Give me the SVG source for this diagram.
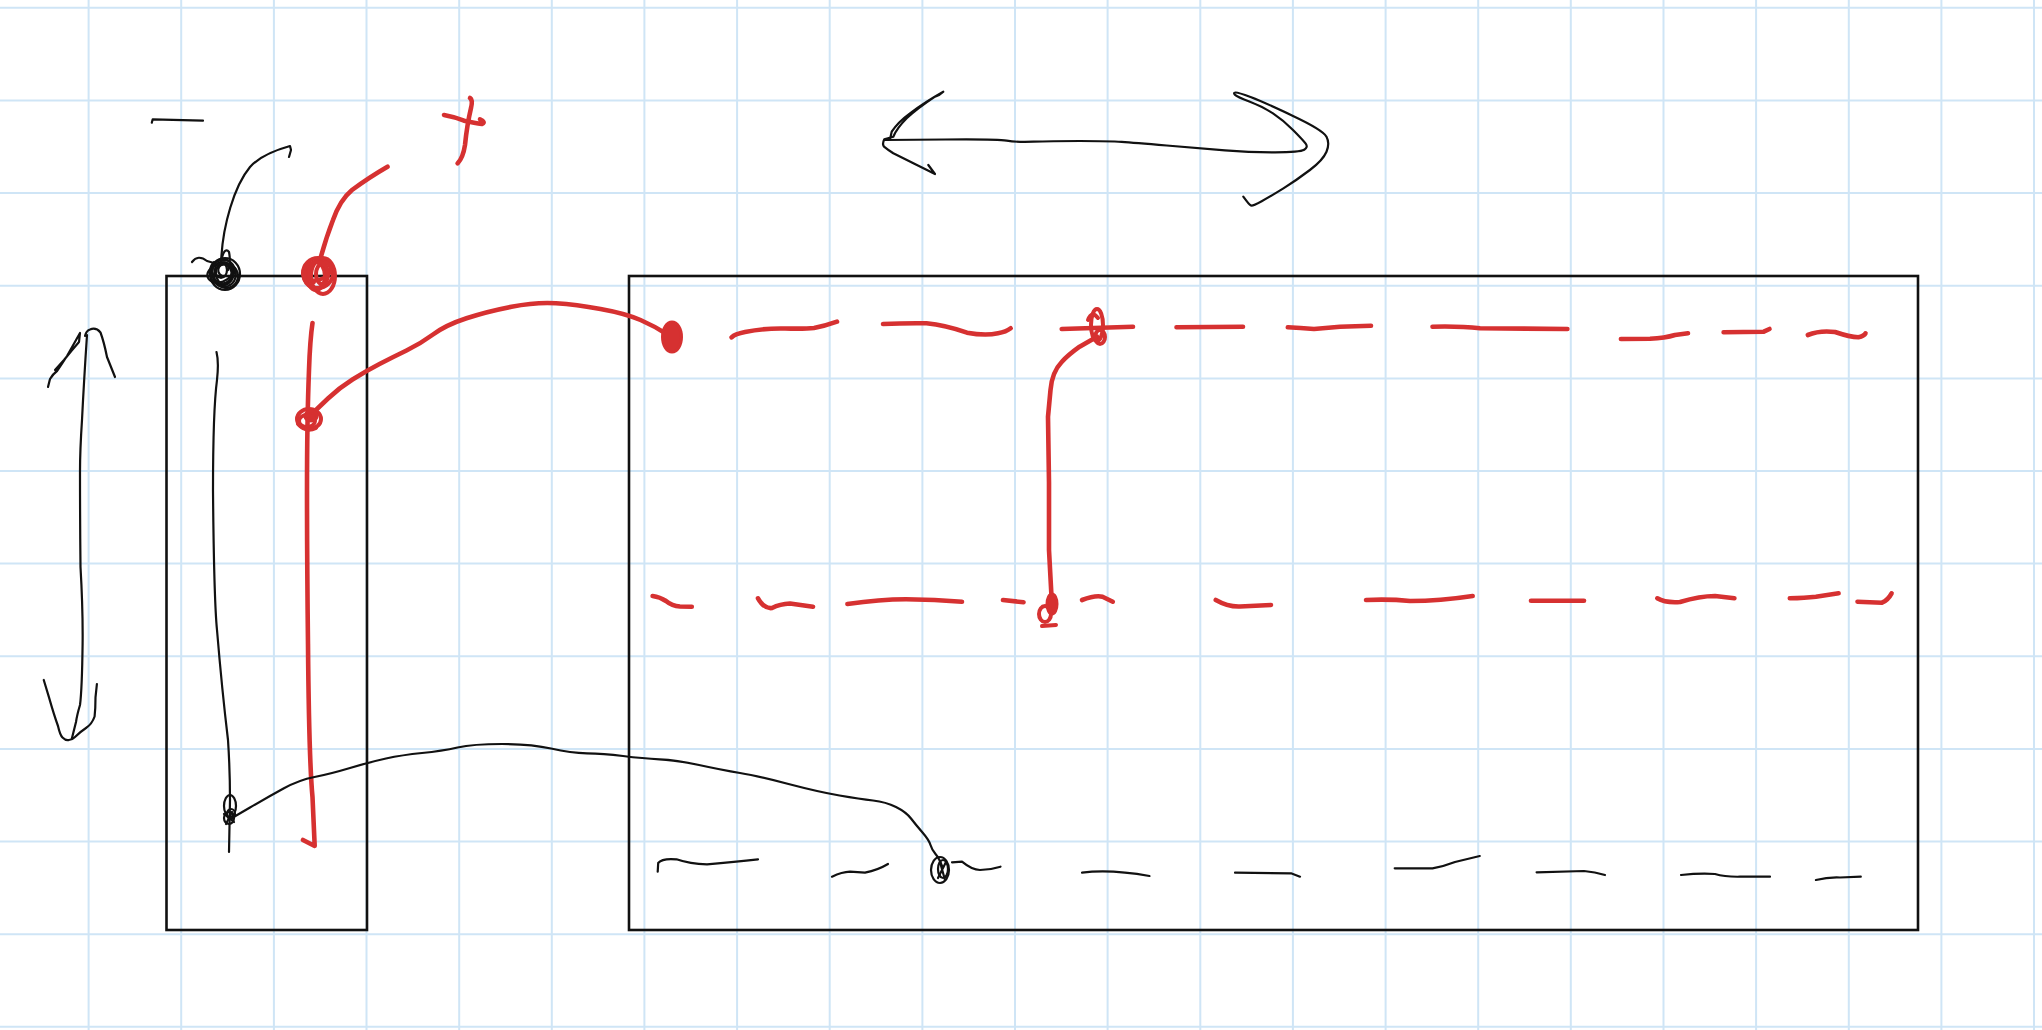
<svg xmlns="http://www.w3.org/2000/svg" width="2042" height="1030" viewBox="0 0 2042 1030">
<style>
.grid{stroke:#cfe5f6;stroke-width:2;fill:none}
.box{fill:none;stroke:#111;stroke-width:2.6}
.ink{fill:none;stroke:#111;stroke-width:2.2;stroke-linecap:round;stroke-linejoin:round}
.red{fill:none;stroke:#d63131;stroke-width:4.6;stroke-linecap:round;stroke-linejoin:round}
.redthin{fill:none;stroke:#d63131;stroke-width:4;stroke-linecap:round;stroke-linejoin:round}
.dot{fill:#d63131;stroke:#d63131;stroke-width:3}
</style>
<rect width="2042" height="1030" fill="#fff"/>
<g id="grid">
<path class="grid" d="M88.6,0V1030M181.2,0V1030M273.9,0V1030M366.5,0V1030M459.2,0V1030M551.8,0V1030M644.4,0V1030M737.1,0V1030M829.7,0V1030M922.4,0V1030M1015,0V1030M1107.6,0V1030M1200.3,0V1030M1292.9,0V1030M1385.6,0V1030M1478.2,0V1030M1570.8,0V1030M1663.5,0V1030M1756.1,0V1030M1848.8,0V1030M1941.4,0V1030M2034,0V1030"/>
<path class="grid" d="M0,7.8H2042M0,100.4H2042M0,193.1H2042M0,285.7H2042M0,378.4H2042M0,471H2042M0,563.6H2042M0,656.3H2042M0,748.9H2042M0,841.6H2042M0,934.2H2042M0,1026.8H2042"/>
</g>

<g id="minus-sign">
<path class="ink" d="M151.8,122.7 L152.7,119.3 L203,120.7"/>
</g>
<g id="plus-sign">
<path class="red" d="M470,98 Q473,100 471,108 Q467,125 465,145 Q463,158 457.6,163.3"/>
<path class="red" d="M444,115 Q455,117 464,120.7 Q475,123 482,124 Q486,122 480,119.3"/>
</g>

<g id="left-rail">
<rect class="box" x="166.5" y="276" width="200.5" height="654"/>
<path class="ink" d="M216.5,352 Q219,362 217,380 Q213,410 213,491 Q214,600 217,630 Q222,690 228,740 Q230,770 230,800 L229,852"/>
<path class="red" d="M312.5,323 Q310,340 309,370 Q307,420 307,491 Q307,560 308,644 Q309,760 312.5,797 L314.7,846 L303,840"/>
</g>

<g id="main-board">
<rect class="box" x="629" y="276" width="1289" height="654"/>
<g id="red-top-row">
<path class="red" d="M731.6,337.3 Q735,334 745,332 Q765,328 785,328.5 Q805,329 814,328 Q825,326 837,321.7"/>
<path class="red" d="M883,324 Q905,323 926.5,323.3 Q945,325 967,332.7 Q985,336 998,333.3 Q1006,332 1010.7,328.3"/>
<path class="red" d="M1061.7,329 L1133,326.7"/>
<path class="red" d="M1176.5,327.3 L1243,326.7"/>
<path class="red" d="M1287.8,327.3 Q1300,328 1314,329 Q1325,328 1340,326.7 L1371,325.7"/>
<path class="red" d="M1432.5,326.7 Q1460,326 1480,328.3 L1567.4,329"/>
<path class="red" d="M1620.9,339 L1650,338.8 Q1665,338 1675,335 L1688,333.3"/>
<path class="red" d="M1723.6,332.3 L1763.8,331.7 L1769.5,329"/>
<path class="red" d="M1807.8,335 Q1820,330 1835,332 Q1850,337 1858.4,337.3 Q1864,336 1865.5,333.3"/>
</g>
<g id="red-middle-row">
<path class="red" d="M652.6,596 Q660,597 666,601 Q672,606 680,606.5 L691.8,606.7"/>
<path class="red" d="M758,598.3 Q764,609 772,608 Q780,604 790,603.5 L813,606.7"/>
<path class="red" d="M847.4,604 Q880,599.5 906,599.3 Q935,599.5 962,601.7"/>
<path class="red" d="M1003,600 L1023.5,602.3"/>
<path class="red" d="M1082,600 Q1095,595 1102.5,596.7 L1112.8,601.7"/>
<path class="red" d="M1215.8,600 Q1228,607 1240,606.5 L1271,605"/>
<path class="red" d="M1366,600 Q1390,599 1410,601 Q1440,601 1472.7,596"/>
<path class="red" d="M1531,600.7 L1584,600.7"/>
<path class="red" d="M1657.3,598.3 Q1665,603 1680,602 Q1700,596 1715,596 L1734.4,598.3"/>
<path class="red" d="M1789.8,598.3 Q1805,598 1815.9,596.7 L1838.6,593.3"/>
<path class="red" d="M1857.5,601.7 L1882,602.7 Q1888,600 1891.6,593.3"/>
</g>
<g id="black-bottom-row">
<path class="ink" d="M657.7,871.7 L658.2,863 Q662,858 676.5,859.3 Q690,864 707,864.3 Q735,862 758,859.3"/>
<path class="ink" d="M832,876.7 Q842,872 850,871.7 L865,872.7 Q878,870 888,864"/>
<path class="ink" d="M952,862.3 L962,861.7 Q972,870 980,870 Q990,870 1000.5,866.7"/>
<path class="ink" d="M1082,872.7 Q1110,869 1149.5,876"/>
<path class="ink" d="M1235,872.7 L1291,873.3 L1300,876.7"/>
<path class="ink" d="M1394.7,868.3 L1432.5,868.3 Q1445,866 1455,862 L1479.8,856"/>
<path class="ink" d="M1536.6,872.3 L1584,871 Q1595,872 1605,875"/>
<path class="ink" d="M1681,875 Q1700,873 1715,874 Q1725,877 1740,876.7 L1770,876.7"/>
<path class="ink" d="M1815.9,880 Q1828,877 1840,877.5 L1860.8,876.7"/>
</g>
</g>

<g id="width-arrow">
<path class="ink" d="M1243.3,196.7 L1246.7,201.2 Q1250,205.7 1251.7,205.7 Q1253.3,205.7 1261.7,201.2 Q1270,196.7 1283.4,188.4 Q1296.7,180 1309.9,170 Q1323,160 1326.5,151.7 Q1330,143.3 1326.5,136.7 Q1323,130 1293,115.9 Q1263,101.7 1250.5,97 Q1238,92.3 1235.5,92.5 Q1233,92.7 1234.9,94.7 Q1236.7,96.7 1249.9,101.7 Q1263,106.7 1273,113.4 Q1283,120 1293,130 Q1303,140 1305.7,143.7 Q1308.3,147.3 1304.2,149.8 Q1300,152.3 1275,152.3 Q1250,152.3 1225,150.3 Q1200,148.3 1166.7,145.5 Q1133.3,142.7 1121.7,141.9 Q1110,141 1080,141 Q1050,141 1033.4,141.7 Q1016.7,142.3 1006.7,140.7 Q996.7,139 945,139.5 Q893.3,140 885,140"/>
<path class="ink" d="M890,139.3 L891.7,131.7 Q898,122 910,113.3 Q925,102 943.3,91.7 Q940,95 935,96.7 Q918,108 906.7,118.3 Q897,128 893.3,136.7 L884.3,139.3 Q882,144 884,146.7 Q888,150 893.3,153.3 L935,174 L928.3,165"/>
</g>

<g id="height-arrow">
<path class="ink" d="M87,335 Q84,380 82,420 Q80,450 80,472 Q80,520 80.5,567 Q83,610 82.6,644 Q82,690 80,705 Q77,715 76,722 L72,738"/>
<path class="ink" d="M48,387 L50,379 Q53,374 57,371 Q62,364 67,356 L80,333 L79,342 Q72,350 64,360 L55,370"/>
<path class="ink" d="M85,336 Q86,331 90,329.5 Q96,327 100.5,332.5 Q104,342 107,357 L115,377"/>
<path class="ink" d="M43.75,680 L49,697.4 Q54,715 58,726 Q60,735 62.5,737.5 Q66,741 69,740 Q72,740 75,737 Q80,732 86,728 Q92,724 94.6,716.5 Q95.5,708 95.5,697.4 L96.9,684"/>
</g>

<g id="connectors">
<path class="ink" d="M221,265 C222,225 235,185 250,167 C258,158 272,151 290,146 L291,150 L289,157"/>
<path class="red" d="M320,260 Q326,238 333,220 Q340,200 352,190 Q368,178 387.5,166.7"/>
<path class="red" d="M317,409 L328,398.5 Q339,388 352.5,379.5 Q366,371 379.5,364 Q393,357 406.5,350.5 Q420,344 433,334.5 Q446,325 466.5,318.3 Q487,311.5 511.5,306.8 Q536,302 556,303.3 Q576,304.6 600.5,309 Q625,313.4 640.5,320 Q656,326.7 670,336"/>
<path class="red" d="M1097,336.7 L1079.6,346.7 Q1068,355 1061.7,362 Q1052,372 1050.5,390 L1048,416.7 L1049,483 L1049,550 L1051.5,596.7"/>
<path class="ink" d="M232,818 L250,807.5 Q268,797 283.5,788.5 Q299,780 314.5,777 Q330,774 350,768 Q370,762 386,758.5 Q402,755 422,753 Q442,751 457.5,747.5 Q473,744 502,744 Q531,744 551,748.5 Q571,753 587,753.3 Q603,753.5 623,756 Q643,758.5 659.5,759.3 Q676,760 699,765 Q722,770 740,773 Q758,776 788.5,784 Q819,792 839.5,795.5 Q860,799 873,800.5 Q886,802 896,807 Q906,812 911,818.5 Q916,825 922.5,832.5 Q929,840 930.5,845 Q932,850 935.5,854 Q939,858 942,866"/>
</g>

<g id="junctions">
<g id="black-knot-top">
<ellipse class="ink" cx="223" cy="272" rx="11" ry="13"/>
<ellipse class="ink" cx="221" cy="270" rx="6" ry="8"/>
<ellipse class="ink" cx="225" cy="274" rx="15" ry="16"/>
<ellipse class="ink" cx="224" cy="273" rx="8" ry="11"/>
<ellipse class="ink" cx="226" cy="276" rx="12" ry="12" transform="rotate(30 226 276)"/>
<ellipse class="ink" cx="220" cy="273" rx="13" ry="9" transform="rotate(-20 220 273)"/>
<path class="ink" d="M214,262 C205,270 212,290 228,286 C240,282 238,262 225,260 C212,258 208,276 218,282 C230,288 236,272 228,266 C220,260 214,272 222,276"/>
<path class="ink" d="M192,262 Q198,254 207,261 L214,263"/>
<path class="ink" d="M221,262 Q224,246 229,252 Q231,262 228,270"/>
</g>
<g id="red-knot-top">
<ellipse class="redthin" cx="318" cy="273" rx="15" ry="15"/>
<ellipse class="redthin" cx="323" cy="276" rx="12" ry="18"/>
<ellipse class="redthin" cx="316" cy="276" rx="9" ry="14"/>
<ellipse class="redthin" cx="322" cy="274" rx="6" ry="10"/>
<ellipse class="redthin" cx="317" cy="271" rx="14" ry="9" transform="rotate(-15 317 271)"/>
<path class="redthin" d="M305,268 C300,285 315,292 322,286 C332,278 328,262 318,262 C308,262 306,278 314,282"/>
</g>
<g id="red-knot-left">
<ellipse class="redthin" cx="309" cy="419" rx="12" ry="10"/>
<ellipse class="dot" cx="311" cy="416" rx="6" ry="5"/>
<ellipse class="redthin" cx="307" cy="421" rx="8" ry="6"/>
<path class="redthin" d="M298,424 Q306,433 316,428"/>
</g>
<ellipse id="red-dot" class="dot" cx="672" cy="337" rx="9.5" ry="15"/>
<g id="red-knot-cross">
<ellipse class="redthin" cx="1097" cy="325" rx="6" ry="16"/>
<ellipse class="redthin" cx="1100" cy="337" rx="5" ry="7"/>
<path class="redthin" d="M1088,320 Q1092,310 1098,318"/>
</g>
<g id="red-knot-middle">
<ellipse class="dot" cx="1052" cy="604" rx="5" ry="10"/>
<ellipse class="redthin" cx="1045" cy="614" rx="6" ry="8"/>
<path class="redthin" d="M1042,626 L1056,625"/>
</g>
<g id="black-knot-left">
<ellipse class="ink" cx="230" cy="806" rx="6" ry="11"/>
<ellipse class="ink" cx="229" cy="818" rx="5" ry="6"/>
<ellipse class="ink" cx="231" cy="814" rx="4" ry="5"/>
<path class="ink" d="M224,814 L234,822 M226,824 L232,812"/>
</g>
<g id="black-knot-bottom">
<ellipse class="ink" cx="940" cy="870" rx="9" ry="13"/>
<ellipse class="ink" cx="943" cy="869" rx="5" ry="9"/>
<path class="ink" d="M938,878 L946,862 M940,862 L945,880"/>
</g>
</g>
</svg>
